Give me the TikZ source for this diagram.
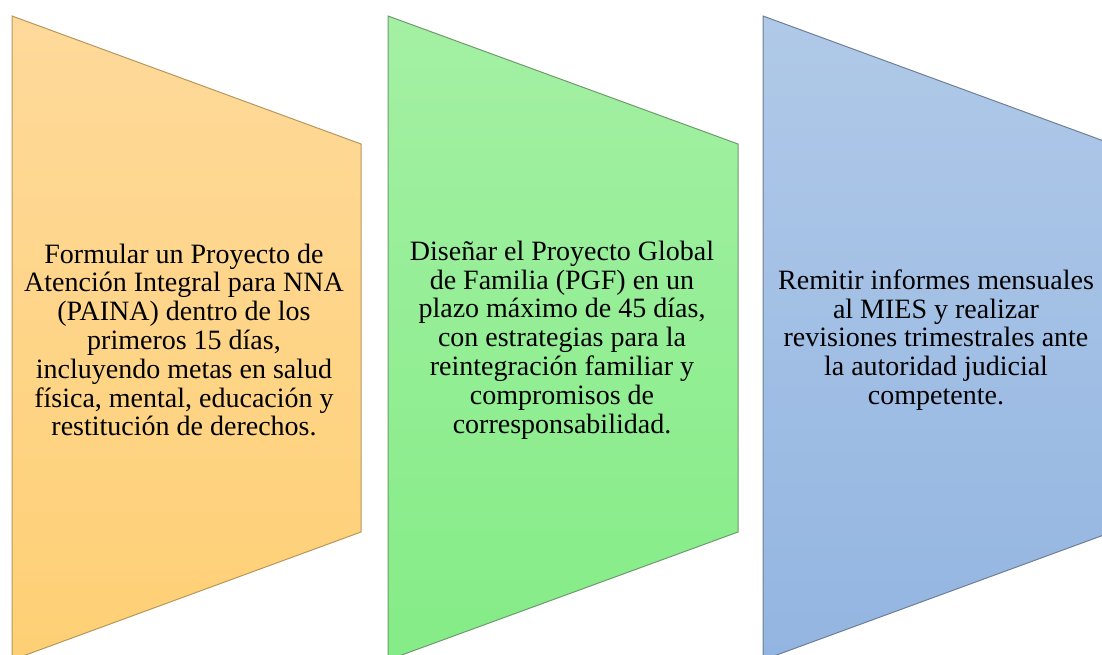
\documentclass[tikz,border=0pt]{standalone}
\usepackage{fontspec}
\setmainfont{Liberation Serif}
\definecolor{orTop}{HTML}{FED99A}
\definecolor{orBot}{HTML}{FED075}
\definecolor{orLine}{HTML}{B8975A}
\definecolor{grTop}{HTML}{A4F0A4}
\definecolor{grBot}{HTML}{84EC86}
\definecolor{grLine}{HTML}{6E9A6E}
\definecolor{blTop}{HTML}{B0C9E8}
\definecolor{blBot}{HTML}{93B5E1}
\definecolor{blLine}{HTML}{6F7F96}
\tikzset{
  panel/.style={line width=1pt, line join=miter},
  paneltext/.style={align=center, font=\fontsize{28}{28.8}\selectfont, text=black, inner sep=0pt}
}
\begin{document}
\begin{tikzpicture}[x=1pt,y=-1pt]
\useasboundingbox (0,0) rectangle (1102,655);
\begin{scope}
\clip (0,0) rectangle (1102,655);
% orange
\shade[panel, draw=orLine, top color=orTop, bottom color=orBot]
  (12,16) -- (361,144) -- (361,532) -- (12,660) -- cycle;
% green
\shade[panel, draw=grLine, top color=grTop, bottom color=grBot]
  (388,16) -- (738,144) -- (738,532) -- (388,660) -- cycle;
% blue
\shade[panel, draw=blLine, top color=blTop, bottom color=blBot]
  (763,16) -- (1112,144) -- (1112,532) -- (763,660) -- cycle;
\end{scope}
\node[paneltext] (t1) at (184,340) {Formular un Proyecto de\\Atención Integral para NNA\\(PAINA) dentro de los\\primeros 15 días,\\incluyendo metas en salud\\física, mental, educación y\\restitución de derechos.};
\node[paneltext] (t2) at (562,340) {Diseñar el Proyecto Global\\de Familia (PGF) en un\\plazo máximo de 45 días,\\con estrategias para la\\reintegración familiar y\\compromisos de\\corresponsabilidad.};
\node[paneltext] (t3) at (936,340) {Remitir informes mensuales\\al MIES y realizar\\revisiones trimestrales ante\\la autoridad judicial\\competente.};
\end{tikzpicture}
\end{document}
